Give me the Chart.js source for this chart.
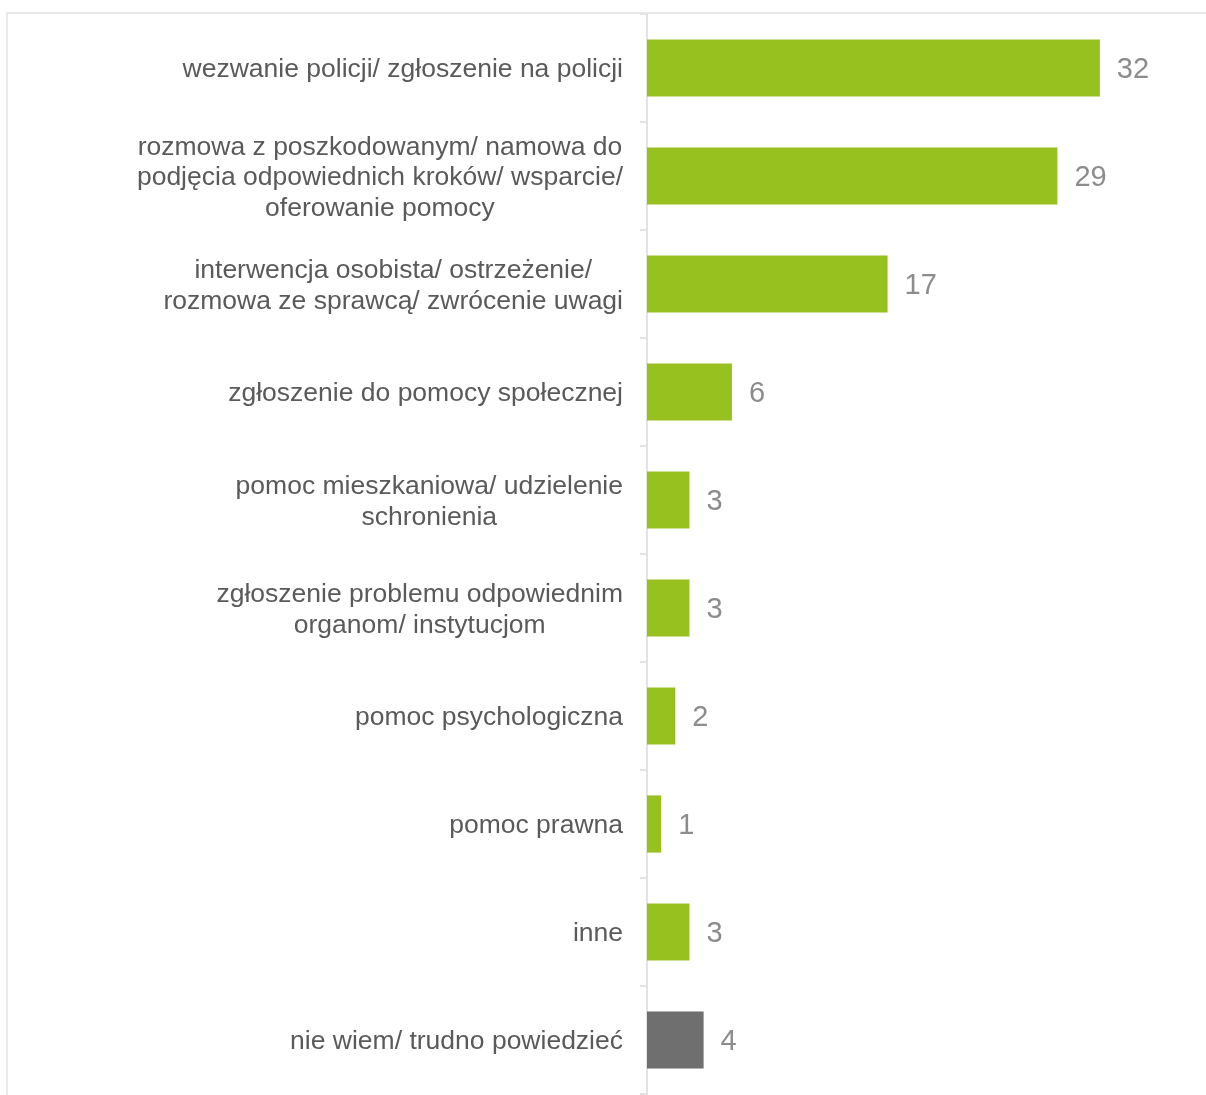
<!DOCTYPE html>
<html>
<head>
<meta charset="utf-8">
<script src="https://cdn.jsdelivr.net/npm/chart.js@4.4.1/dist/chart.umd.min.js"></script>
<style>
  html, body { margin: 0; padding: 0; background: #fff; overflow: hidden; }
  #frame {
    position: absolute; left: 6px; top: 12px; width: 1220px; height: 1200px;
    border-top: 2px solid #e9e9e9; border-left: 2px solid #e9e9e9;
  }
  #chart { position: absolute; left: 0; top: 0; }
</style>
</head>
<body>
<div id="frame"></div>
<canvas id="chart" width="1206" height="1095"></canvas>
<script>
const categories = [
  ["wezwanie policji/ zgłoszenie na policji"],
  ["rozmowa z poszkodowanym/ namowa do", "podjęcia odpowiednich kroków/ wsparcie/", "oferowanie pomocy"],
  ["interwencja osobista/ ostrzeżenie/", "rozmowa ze sprawcą/ zwrócenie uwagi"],
  ["zgłoszenie do pomocy społecznej"],
  ["pomoc mieszkaniowa/ udzielenie", "schronienia"],
  ["zgłoszenie problemu odpowiednim", "organom/ instytucjom"],
  ["pomoc psychologiczna"],
  ["pomoc prawna"],
  ["inne"],
  ["nie wiem/ trudno powiedzieć"]
];
const values = [32, 29, 17, 6, 3, 3, 2, 1, 3, 4];

const GREEN = "#96c11f";
const GRAY = "#6f6f6f";
const labelFont = "26.5px 'Liberation Sans', Arial, sans-serif";
const valueFont = "29px 'Liberation Sans', Arial, sans-serif";

// category labels: block right aligned, lines centered within block
const labelPlugin = {
  id: "catLabels",
  afterDraw(chart) {
    const ctx = chart.ctx;
    const yScale = chart.scales.y;
    const right = yScale.right - 24;
    const lineH = 30.5;
    ctx.save();
    ctx.font = labelFont;
    ctx.fillStyle = "#5a5a5a";
    ctx.textAlign = "center";
    ctx.textBaseline = "middle";
    categories.forEach((lines, i) => {
      const y = yScale.getPixelForTick(i) + 2;
      const w = Math.max(...lines.map(l => ctx.measureText(l).width));
      const cx = right - w / 2;
      const top = y - (lines.length - 1) * lineH / 2;
      lines.forEach((l, j) => ctx.fillText(l, cx, top + j * lineH));
    });
    ctx.restore();
  }
};

const valuePlugin = {
  id: "valueLabels",
  afterDatasetsDraw(chart) {
    const ctx = chart.ctx;
    const meta = chart.getDatasetMeta(0);
    ctx.save();
    ctx.font = valueFont;
    ctx.fillStyle = "#8c8c8c";
    ctx.textAlign = "left";
    ctx.textBaseline = "middle";
    meta.data.forEach((bar, i) => {
      ctx.fillText(String(values[i]), bar.x + 17, bar.y + 2);
    });
    ctx.restore();
  }
};

new Chart(document.getElementById("chart").getContext("2d"), {
  type: "bar",
  data: {
    labels: categories,
    datasets: [{
      data: values,
      backgroundColor: c => c.dataIndex === categories.length - 1 ? GRAY : GREEN,
      borderWidth: 0,
      categoryPercentage: 1,
      barPercentage: 0.53
    }]
  },
  options: {
    indexAxis: "y",
    responsive: false,
    animation: false,
    devicePixelRatio: 1,
    layout: { padding: { top: 14, bottom: 1, left: 0, right: 0 } },
    plugins: { legend: { display: false }, tooltip: { enabled: false } },
    scales: {
      x: { display: false, min: 0, max: 39.5 },
      y: {
        afterFit: s => { s.width = 647; },
        ticks: { display: false },
        grid: {
          drawOnChartArea: false,
          drawTicks: true,
          tickLength: 7,
          offset: true,
          color: "#e3e3e3",
          lineWidth: 2
        },
        border: { display: true, color: "#e3e3e3", width: 2 }
      }
    }
  },
  plugins: [labelPlugin, valuePlugin]
});
</script>
</body>
</html>
